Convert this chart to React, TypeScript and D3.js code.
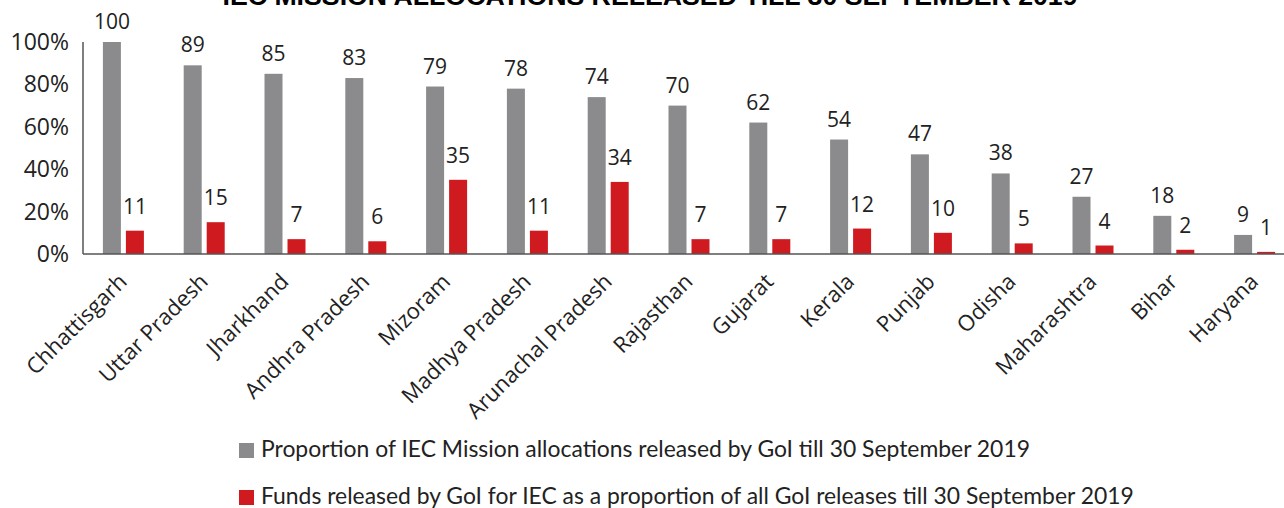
import React from "react";
import * as d3 from "d3";

const title = "IEC MISSION ALLOCATIONS RELEASED TILL 30 SEPTEMBER 2019";
const states = [
  "Chhattisgarh", "Uttar Pradesh", "Jharkhand", "Andhra Pradesh", "Mizoram",
  "Madhya Pradesh", "Arunachal Pradesh", "Rajasthan", "Gujarat", "Kerala",
  "Punjab", "Odisha", "Maharashtra", "Bihar", "Haryana",
];
const allocReleased = [100, 89, 85, 83, 79, 78, 74, 70, 62, 54, 47, 38, 27, 18, 9];
const iecShare = [11, 15, 7, 6, 35, 11, 34, 7, 7, 12, 10, 5, 4, 2, 1];
const yTicks = [0, 20, 40, 60, 80, 100];
const legendLabels = [
  "Proportion of IEC Mission allocations released by GoI till 30 September 2019",
  "Funds released by GoI for IEC as a proportion of all GoI releases till 30 September 2019",
];

const GRAY = "#8b8b8d";
const RED = "#cf1a20";
const W = 1284;
const H = 508;

export default function App() {
  const x = d3.scaleBand<string>().domain(states).range([83, 1295]).padding(0);
  const y = d3.scaleLinear().domain([0, 100]).range([254, 42]);
  const barW = 18;
  const off = 11.5;
  const font = "'Open Sans', sans-serif";

  return (
    <svg
      width={W}
      height={H}
      style={{ position: "absolute", left: 0, top: 0, background: "#fff" }}
    >
      <text
        x={650}
        y={5}
        textAnchor="middle"
        fontFamily="'Liberation Sans', Arial, sans-serif"
        fontWeight="bold"
        fontSize={25}
        textLength={855}
        lengthAdjust="spacingAndGlyphs"
        fill="#000"
      >
        {title}
      </text>

      {yTicks.map((t) => (
        <text
          key={t}
          x={69}
          y={y(t)}
          dy="0.35em"
          textAnchor="end"
          fontFamily={font}
          fontSize={23}
          fill="#222"
        >
          {t}%
        </text>
      ))}

      {states.map((s, i) => {
        const c = (x(s) as number) + x.bandwidth() / 2;
        const g = allocReleased[i];
        const r = iecShare[i];
        return (
          <g key={s}>
            <rect x={c - off - barW / 2} y={y(g)} width={barW} height={y(0) - y(g)} fill={GRAY} />
            <rect x={c + off - barW / 2} y={y(r)} width={barW} height={y(0) - y(r)} fill={RED} />
            <text x={c - off} y={y(g) - 13} textAnchor="middle" fontFamily={font} fontSize={21} fill="#222">
              {g}
            </text>
            <text x={c + off} y={y(r) - 17} textAnchor="middle" fontFamily={font} fontSize={21} fill="#222">
              {r}
            </text>
            <text
              transform={`translate(${c + 5},${283}) rotate(-45)`}
              textAnchor="end"
              fontFamily={font}
              fontSize={22}
              fill="#222"
            >
              {s}
            </text>
          </g>
        );
      })}

      <line x1={83} x2={W} y1={y(0)} y2={y(0)} stroke="#555" strokeWidth={1.5} />
      <line x1={83} x2={83} y1={y(100)} y2={y(0)} stroke="#555" strokeWidth={1.5} />

      {legendLabels.map((l, i) => (
        <g key={l} transform={`translate(239,${443 + i * 47})`}>
          <rect x={0} y={0} width={15} height={15} fill={i === 0 ? GRAY : RED} />
          <text x={22} y={14} fontFamily="Lato, sans-serif" fontSize={22.9} fill="#222">
            {l}
          </text>
        </g>
      ))}
    </svg>
  );
}
